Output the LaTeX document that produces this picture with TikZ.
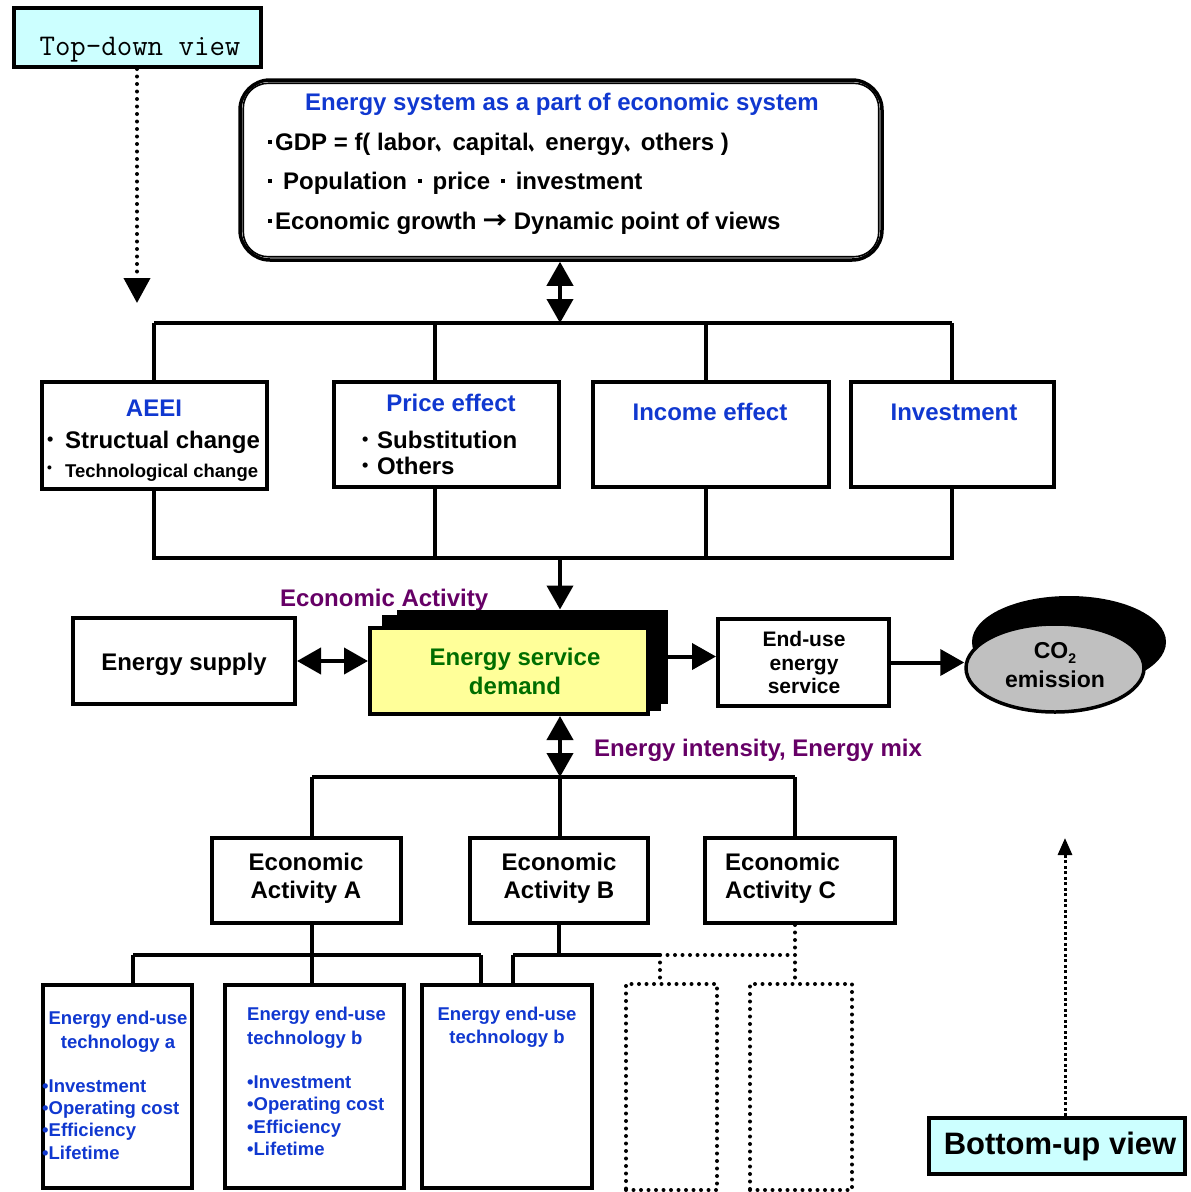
\documentclass[tikz,border=0pt]{standalone}
\usepackage{fontspec}
\setmainfont{Liberation Sans}
\newfontfamily\cjk{Noto Sans CJK SC}
\usetikzlibrary{arrows.meta,shapes.geometric}
\definecolor{tblue}{RGB}{16,56,208}
\definecolor{tpurple}{RGB}{102,0,102}
\definecolor{tgreen}{RGB}{0,110,0}
\definecolor{tcyan}{RGB}{204,255,255}
\definecolor{tyellow}{RGB}{255,255,153}
\definecolor{tgray}{RGB}{192,192,192}
\tikzset{
  ln/.style={line width=4pt},
  bx/.style={draw, line width=4pt, inner sep=0pt, fill=white},
  dotbx/.style={draw, line width=4pt, dash pattern=on 0pt off 7.5pt, line cap=round, inner sep=0pt},
  dotln/.style={line width=4pt, dash pattern=on 0pt off 7.5pt, line cap=round},
  arr/.style={ln, -{Triangle[width=26pt,length=24pt]}},
  dbl/.style={ln, {Triangle[width=26pt,length=24pt]}-{Triangle[width=26pt,length=24pt]}},
  txt/.style={inner sep=0pt, font=\bfseries},
  f24/.style={txt, font=\fontsize{24}{28}\selectfont\bfseries},
  f22/.style={txt, font=\fontsize{22}{26}\selectfont\bfseries},
  f21/.style={txt, font=\fontsize{21}{24}\selectfont\bfseries},
  f18/.style={txt, font=\fontsize{18.5}{22}\selectfont\bfseries},
}
\newcommand{\sqd}{\raisebox{0.26em}{\rule{0.17em}{0.17em}}}
\newcommand{\rdot}{\raisebox{0.09em}{\scalebox{0.75}{\textbullet}}}
\newcommand{\rdothi}{\raisebox{0.22em}{\scalebox{0.75}{\textbullet}}}
\newcommand{\kcomma}{\makebox[0.7em][l]{\scalebox{0.65}[1]{\cjk\bfseries 、}}}
\begin{document}
\begin{tikzpicture}[x=1pt,y=-1pt]
\useasboundingbox (0,0) rectangle (1191,1192);

% ---------- Top-down view ----------
\node[bx, fill=tcyan, minimum width=247pt, minimum height=59pt] (topdown) at (137.5,37.5) {};
\node[inner sep=0pt, anchor=base, font=\fontsize{30}{32}\selectfont\ttfamily] (tdtext) at (140,55) {Top-down view};
\coordinate (tdtip) at (137,303);
\draw[dotln, -{Triangle[width=26pt,length=25pt]}] (topdown.south -| tdtip) -- (tdtip);

% ---------- Economic system box ----------
\node[draw, line width=3.5pt, rounded corners=30pt, minimum width=642pt, minimum height=180pt, inner sep=0pt] (econ) at (561,170) {};
\draw[line width=1.6pt, rounded corners=25pt] ([shift={(5,5)}]econ.north west) rectangle ([shift={(-5,-5)}]econ.south east);
\node[f24, text=tblue, anchor=base] (econt) at (562,110) {Energy system as a part of economic system};
\node[f24, anchor=base west] (gdp) at (268,150) {\sqd\hspace{0.12em}GDP = f( labor\kcomma capital\kcomma energy\kcomma others )};
\node[f24, anchor=base west] (pop) at (268,189) {\sqd\hspace{0.45em}Population\hspace{0.45em}\sqd\hspace{0.45em}price\hspace{0.45em}\sqd\hspace{0.45em}investment};
\node[f24, anchor=base west] (grow) at (268,229) {\sqd\hspace{0.12em}Economic growth {\cjk →} Dynamic point of views};

% ---------- upper bus ----------
\coordinate (tc) at (560,323);
\coordinate (t1) at (154,323);
\coordinate (t2) at (435,323);
\coordinate (t3) at (706,323);
\coordinate (t4) at (952,323);
\coordinate (uc) at (560,558);
\coordinate (u1) at (154,558);
\coordinate (u4) at (952,558);

\node[bx, minimum width=225pt, minimum height=107pt] (aeei) at (154.5,435.5) {};
\node[bx, minimum width=225pt, minimum height=105pt] (price) at (446.5,434.5) {};
\node[bx, minimum width=236pt, minimum height=105pt] (income) at (711,434.5) {};
\node[bx, minimum width=203pt, minimum height=105pt] (invest) at (952.5,434.5) {};

\draw[dbl] (tc |- econ.south) -- (tc);
\draw[ln] (t1) -- (t4);
\draw[ln] (t1) -- (t1 |- aeei.north);
\draw[ln] (t2) -- (t2 |- price.north);
\draw[ln] (t3) -- (t3 |- income.north);
\draw[ln] (t4) -- (t4 |- invest.north);
\draw[ln] (t1 |- aeei.south) -- (u1) -- (u4) -- (t4 |- invest.south);
\draw[ln] (t2 |- price.south) -- (t2 |- uc);
\draw[ln] (t3 |- income.south) -- (t3 |- uc);

\node[f24, text=tblue, anchor=base] (aeeit) at (154,416) {AEEI};
\node[f24, anchor=base west] (aeei1) at (47,448) {\makebox[18pt][l]{\rdot}Structual change};
\node[f18, anchor=base west] (aeei2) at (47,477) {\makebox[18pt][l]{\rdothi}Technological change};
\node[f24, text=tblue, anchor=base] (pricet) at (451,411) {Price effect};
\node[f24, anchor=base west] (price1) at (362,448) {\makebox[15pt][l]{\rdot}Substitution};
\node[f24, anchor=base west] (price2) at (362,474) {\makebox[15pt][l]{\rdot}Others};
\node[f24, text=tblue, anchor=base] (incomet) at (710,420) {Income effect};
\node[f24, text=tblue, anchor=base] (investt) at (954,420) {Investment};

% ---------- middle row ----------
\node[f24, text=tpurple, anchor=base west] (ecact) at (280,606) {Economic Activity};

\node[bx, minimum width=222pt, minimum height=86pt] (supply) at (184,661) {};
\node[f24, anchor=base] (supplyt) at (184,670) {Energy supply};

\node[draw, fill=black, line width=1pt, minimum width=270pt, minimum height=93pt, inner sep=0pt] (sh2) at (532,656.5) {};
\node[draw, fill=black, line width=1pt, minimum width=278pt, minimum height=95pt, inner sep=0pt] (sh1) at (521,662.5) {};
\node[bx, fill=tyellow, minimum width=278pt, minimum height=86pt] (esd) at (509,671) {};
\node[f24, text=tgreen, anchor=base] (esd1) at (515,665) {Energy service};
\node[f24, text=tgreen, anchor=base] (esd2) at (515,694) {demand};

\draw[arr] (uc) -- (uc |- sh2.north);
\draw[dbl] (supply.east) -- (supply.east -| esd.west);

\node[bx, minimum width=171pt, minimum height=87pt] (enduse) at (803.5,662.5) {};
\node[f21, anchor=base] (eu1) at (804,646) {End-use};
\node[f21, anchor=base] (eu2) at (804,670) {energy};
\node[f21, anchor=base] (eu3) at (804,693) {service};
\draw[arr] (sh2.east) -- (sh2.east -| enduse.west);

\node[ellipse, draw, fill=black, line width=2pt, minimum width=192pt, minimum height=90pt, inner sep=0pt] (co2sh) at (1069,642) {};
\node[ellipse, draw, fill=tgray, line width=3.5pt, minimum width=178pt, minimum height=88pt, inner sep=0pt] (co2) at (1055,668) {};
\node[txt, anchor=base, font=\fontsize{23}{26}\selectfont\bfseries] (co2t) at (1055,658) {CO\raisebox{-0.25em}{\fontsize{14}{16}\selectfont 2}};
\node[txt, anchor=base, font=\fontsize{23}{26}\selectfont\bfseries] (co2t2) at (1055,687) {emission};
\draw[arr] (enduse.east) -- (enduse.east -| co2.west);

% ---------- lower part ----------
\coordinate (mc) at (560,777);
\coordinate (m1) at (312,777);
\coordinate (m3) at (795,777);
\node[f24, text=tpurple, anchor=base west] (intens) at (594,756) {Energy intensity, Energy mix};

\node[bx, minimum width=189pt, minimum height=85pt] (ea) at (306.5,880.5) {};
\node[bx, minimum width=178pt, minimum height=85pt] (eb) at (559,880.5) {};
\node[bx, minimum width=190pt, minimum height=85pt] (ec) at (800,880.5) {};
\draw[dbl] (mc |- esd.south) -- (mc);
\draw[ln] (m1) -- (m3);
\draw[ln] (m1) -- (m1 |- ea.north);
\draw[ln] (mc) -- (mc |- eb.north);
\draw[ln] (m3) -- (m3 |- ec.north);

\node[f24, anchor=base] (ea1) at (306,870) {Economic};
\node[f24, anchor=base] (ea2) at (306,898) {Activity A};
\node[f24, anchor=base] (eb1) at (559,870) {Economic};
\node[f24, anchor=base] (eb2) at (559,898) {Activity B};
\node[f24, anchor=base west] (ec1) at (725,870) {Economic};
\node[f24, anchor=base west] (ec2) at (725,898) {Activity C};

% technology boxes
\node[bx, minimum width=149pt, minimum height=203pt] (ta) at (117.5,1086.5) {};
\node[bx, minimum width=179pt, minimum height=203pt] (tb1) at (314.5,1086.5) {};
\node[bx, minimum width=170pt, minimum height=203pt] (tb2) at (507,1086.5) {};
\node[dotbx, minimum width=91pt, minimum height=206pt] (d1) at (671.5,1087) {};
\node[dotbx, minimum width=102pt, minimum height=206pt] (d2) at (801,1087) {};

\coordinate (la) at (312,955);
\coordinate (la1) at (133,955);
\coordinate (la3) at (481,955);
\coordinate (lb) at (559,955);
\coordinate (lb1) at (513,955);
\coordinate (lb2) at (660,955);
\coordinate (lc) at (795,955);

\draw[ln] (la |- ea.south) -- (la);
\draw[ln] (la1) -- (la3);
\draw[ln] (la1) -- (la1 |- ta.north);
\draw[ln] (la) -- (la |- tb1.north);
\draw[ln] (la3) -- (la3 |- tb2.north);
\draw[ln] (lb |- eb.south) -- (lb);
\draw[ln] (lb1) -- (lb2);
\draw[ln] (lb1) -- (lb1 |- tb2.north);
\draw[dotln] (lb2) -- (lc);
\draw[dotln] (lc |- ec.south) -- (lc |- d2.north);
\draw[dotln] (lb2) -- (lb2 |- d1.north);

\node[f18, text=tblue, anchor=base] (ta1) at (118,1024) {Energy end-use};
\node[f18, text=tblue, anchor=base] (ta2) at (118,1048) {technology a};
\node[f18, text=tblue, anchor=base west] (ta3) at (42,1092) {•Investment};
\node[f18, text=tblue, anchor=base west] (ta4) at (42,1114) {•Operating cost};
\node[f18, text=tblue, anchor=base west] (ta5) at (42,1136) {•Efficiency};
\node[f18, text=tblue, anchor=base west] (ta6) at (42,1159) {•Lifetime};

\node[f18, text=tblue, anchor=base west] (tb11) at (247,1020) {Energy end-use};
\node[f18, text=tblue, anchor=base west] (tb12) at (247,1044) {technology b};
\node[f18, text=tblue, anchor=base west] (tb13) at (247,1088) {•Investment};
\node[f18, text=tblue, anchor=base west] (tb14) at (247,1110) {•Operating cost};
\node[f18, text=tblue, anchor=base west] (tb15) at (247,1133) {•Efficiency};
\node[f18, text=tblue, anchor=base west] (tb16) at (247,1155) {•Lifetime};

\node[f18, text=tblue, anchor=base] (tb21) at (507,1020) {Energy end-use};
\node[f18, text=tblue, anchor=base] (tb22) at (507,1043) {technology b};

% ---------- Bottom-up view ----------
\node[bx, fill=tcyan, minimum width=256pt, minimum height=56pt] (bu) at (1057,1146) {};
\node[txt, anchor=base, font=\fontsize{31}{34}\selectfont\bfseries] (butext) at (1060,1154) {Bottom-up view};
\coordinate (butip) at (1065,838);
\draw[line width=3pt, dash pattern=on 3pt off 2.5pt, -{Triangle[width=14pt,length=17pt]}] (butip |- bu.north) -- (butip);

\end{tikzpicture}
\end{document}
